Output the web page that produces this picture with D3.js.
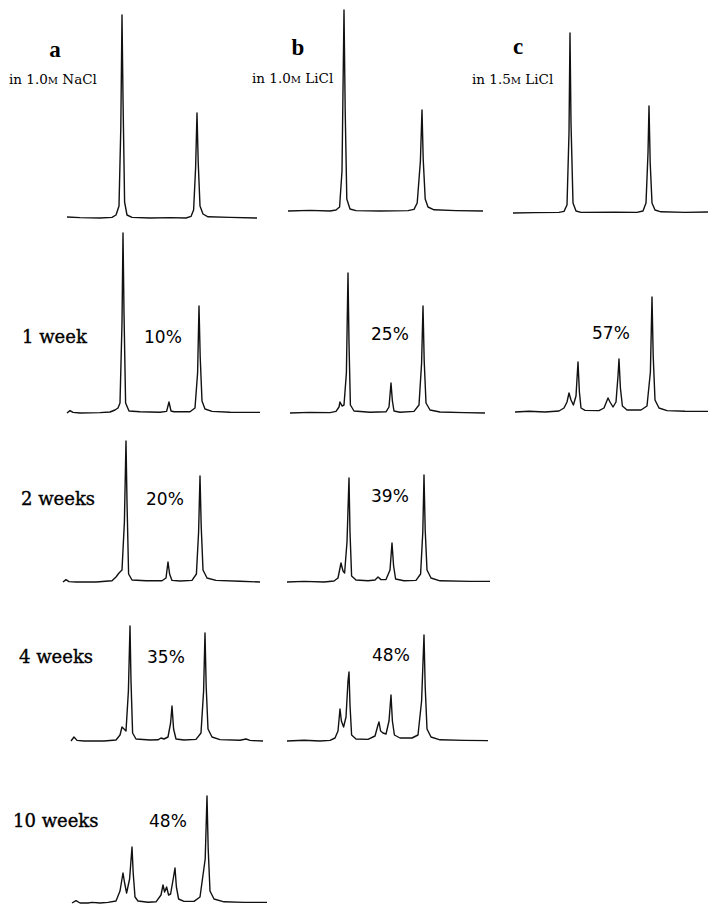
<!DOCTYPE html>
<html>
<head>
<meta charset="utf-8">
<script src="https://cdn.jsdelivr.net/npm/d3@7"></script>
<style>
  body { margin: 0; background: #fff; }
  svg { display: block; }
</style>
</head>
<body>
<div id="chart"></div>
<script>
// column headings
var columns = ["a", "b", "c"];
var concentrations = ["1.0", "1.0", "1.5"];
var salts = ["NaCl", "LiCl", "LiCl"];
var rowLabels = ["", "1 week", "2 weeks", "4 weeks", "10 weeks"];

// percentages per column, by row
var percentA = ["", "10%", "20%", "35%", "48%"];
var percentB = ["", "25%", "39%", "48%"];
var percentC = ["", "57%"];

// traces: [retention, absorbance]
var traceA0 = [[3.5,0.5],[10,0.2],[20,0],[26,0.3],[28,1.5],[29.5,6],[30.4,45],[31,101.5],[31.5,60],[32.3,8],[33.5,1.5],[36,0.3],[45,0],[55,0.2],[63,0],[65.5,0.8],[66.8,4],[67.8,25],[68.5,52.5],[69.1,28],[70,6],[71.5,2],[74,0.6],[85,0.3],[98.5,0]];
var traceB0 = [[4,0],[15,0.3],[25,0],[28,0.5],[29.8,2],[31,20],[32,100.5],[32.6,50],[33.4,6],[35,1],[38,0.2],[50,0],[64,0.2],[67,0.8],[68.6,4],[70.2,25],[71,50.5],[71.6,26],[72.6,6],[74,2],[77,0.6],[88,0.2],[101.5,0]];
var traceC0 = [[4,0],[15,0.2],[27,0.3],[29.5,0.8],[31,4],[32,40],[32.5,90],[33,45],[34,5],[35.5,1],[38,0.3],[55,0.4],[66,0.3],[69,1],[70.5,5],[71.5,30],[72,53.5],[72.6,25],[73.5,5],[75,1.5],[78,0.6],[90,0.3],[101.5,0.5]];
var traceA1 = [[3.5,0],[5,1.2],[6.5,0.3],[10,0],[20,0.2],[25,0.5],[27.5,1.5],[29,2.5],[30,5],[31,45],[31.5,90],[32,50],[32.8,5],[34.5,1],[40,0.6],[50,0.4],[53.3,0.8],[54.5,5.5],[55.5,1],[57,0.6],[65,0.6],[67.5,2.5],[68.8,20],[69.5,53.5],[70.1,28],[71,6],[72.5,2],[76,0.8],[85,0.4],[100,0.3]];
var traceB1 = [[5,0],[15,0.3],[25,0.2],[28,0.8],[29.5,3],[30,5.5],[31,3.5],[32,4],[33.2,20],[34,70],[34.5,35],[35.2,4],[37,1],[45,0.4],[53,0.6],[54.5,3],[55.5,15],[56.2,6],[57,1],[60,0.4],[67,0.8],[69.5,4],[70.8,25],[71.5,53.5],[72.1,26],[73,5],[75,1.5],[80,0.5],[92,0.2],[102.5,0]];
var traceC1 = [[5,0],[12,0.4],[20,0],[27,0.5],[29.5,2],[31,5],[32,9.5],[33,6],[34.2,3.5],[35.5,8],[36.5,25],[37.2,10],[38,2],[40,0.8],[47,0.7],[49.5,2],[51.5,7],[52.5,5],[54,2.5],[55.5,5],[56.5,18],[57,26.5],[57.7,12],[58.7,3],[61,1],[68,1],[71,3],[72.7,20],[73.5,57.5],[74.1,28],[75,6],[77,2],[81,0.7],[90,0.4],[101.5,0.3]];
var traceA2 = [[1.5,0],[3,1.2],[4.5,0.2],[8,0],[18,0],[26,0.6],[28,2.5],[29.5,4.5],[31,6],[32.2,30],[33,70.5],[33.5,40],[34.3,4],[36,1],[43,0.6],[51,0.6],[53,2],[54,10],[54.8,4],[56,0.8],[60,0.5],[66,0.8],[68.2,4],[69.3,25],[70,53],[70.6,28],[71.5,6],[73.5,2],[78,0.8],[90,0.4],[100,0]];
var traceB2 = [[3.5,0],[12,0.3],[22,0],[27,0.5],[29,2],[30.5,9.5],[31.5,5.5],[32.3,4.5],[33.5,20],[34.5,52],[35,25],[35.8,3],[38,1],[44,0.6],[47.5,1],[49,2.5],[50.5,1.2],[53,1.2],[55,6],[56,19.5],[56.8,8],[57.8,1.5],[62,0.6],[68,0.8],[70.3,4],[71.4,25],[72,53.5],[72.6,26],[73.5,6],[75.5,2],[80,0.6],[95,0.3],[105,0.3]];
var traceA3 = [[5.5,0],[7,2],[8.5,0.3],[12,0],[22,0],[28,0.5],[30,3],[31,7],[32,6],[33,5],[34.2,25],[35,57.5],[35.5,30],[36.3,4],[38,1],[45,0.5],[49,0.6],[50.5,1.5],[52,1],[54,2],[55.3,9],[56,17.5],[56.8,6],[58,1],[62,0.5],[68,0.8],[70.5,4],[71.8,25],[72.5,54],[73.1,27],[74,6],[76,2],[80,0.7],[90,0.4],[93,1],[95,0.3],[101.5,0]];
var traceB3 = [[3.5,0],[12,0.4],[20,0],[25,0.3],[27.5,1.5],[29,5],[30,16],[30.7,10],[31.8,7],[33,12],[34,30],[34.5,34.5],[35,18],[35.8,3],[38,1],[44,0.8],[47.5,2.5],[49,8],[49.5,9.5],[50.3,5],[51.5,4],[53,3.5],[54.5,10],[55.5,23],[56.2,10],[57.2,3],[60,1.5],[66,1.5],[69,3],[70.8,20],[72,53],[72.6,27],[73.5,6],[75.5,2],[80,0.6],[92,0.3],[104,0.2]];
var traceA4 = [[6,0],[8,1.2],[10,0],[14,0],[16,0.3],[20,0],[24,0.3],[28,1],[30,6],[31.5,15],[32.3,10],[33.3,5],[34.8,12],[36,28],[36.6,15],[37.5,3],[39,1],[44,0.4],[48,0.6],[50.5,4],[51.5,9],[52.3,5.5],[53.3,8],[54.3,4],[55.3,4.5],[56.6,12],[57.5,17.5],[58.2,8],[59.3,2],[62,0.8],[67,0.8],[70,3],[72.6,22],[73.5,53.5],[74.1,27],[75,6],[77,2],[82,0.6],[92,0.3],[103.5,0.3]];

var width = 709, height = 904;

// layout
var colLeft = [60, 280, 505];
var panels = [
  {trace: traceA0, col: 0, base: 218},
  {trace: traceB0, col: 1, base: 211},
  {trace: traceC0, col: 2, base: 213},
  {trace: traceA1, col: 0, base: 413},
  {trace: traceB1, col: 1, base: 413},
  {trace: traceC1, col: 2, base: 412},
  {trace: traceA2, col: 0, base: 582},
  {trace: traceB2, col: 1, base: 582},
  {trace: traceA3, col: 0, base: 741},
  {trace: traceB3, col: 1, base: 741},
  {trace: traceA4, col: 0, base: 903}
];

var x = d3.scaleLinear().domain([0, 100]).range([0, 200]);
var y = d3.scaleLinear().domain([0, 100]).range([0, -200]);

var svg = d3.select("#chart").append("svg")
  .attr("width", width)
  .attr("height", height);

var line = d3.line()
  .x(function(d) { return x(d[0]); })
  .y(function(d) { return y(d[1]); });

svg.selectAll(".trace").data(panels).enter().append("path")
  .attr("class", "trace")
  .attr("transform", function(d) { return "translate(" + colLeft[d.col] + "," + d.base + ")"; })
  .attr("d", function(d) { return line(d.trace); })
  .attr("fill", "none")
  .attr("stroke", "#111")
  .attr("stroke-width", 1.4)
  .attr("stroke-linejoin", "round");

// column letters and conditions
var headX = [55, 298, 518], headY = [57, 55, 54];
var subX = [9, 252, 472], subY = [84, 83, 84];

svg.selectAll(".head").data(columns).enter().append("text")
  .attr("class", "head")
  .attr("x", function(d, i) { return headX[i]; })
  .attr("y", function(d, i) { return headY[i]; })
  .attr("text-anchor", "middle")
  .style("font-family", "'Liberation Serif', serif")
  .style("font-weight", "bold")
  .style("font-size", "23px")
  .text(function(d) { return d; });

var subs = svg.selectAll(".sub").data(columns).enter().append("text")
  .attr("class", "sub")
  .attr("x", function(d, i) { return subX[i]; })
  .attr("y", function(d, i) { return subY[i]; })
  .style("font-family", "'DejaVu Serif', serif")
  .style("font-size", "13.5px");
subs.append("tspan").text(function(d, i) { return "in " + concentrations[i]; });
subs.append("tspan").style("font-size", "10px").text("M");
subs.append("tspan").text(function(d, i) { return " " + salts[i]; });

// row labels
var rowX = [0, 22, 21, 19, 13], rowY = [0, 343, 505, 663, 827];
svg.selectAll(".row").data(rowLabels).enter().append("text")
  .attr("class", "row")
  .attr("x", function(d, i) { return rowX[i]; })
  .attr("y", function(d, i) { return rowY[i]; })
  .style("font-family", "'DejaVu Serif', serif")
  .style("font-size", "18px")
  .style("stroke", "#000")
  .style("stroke-width", 0.35)
  .text(function(d) { return d; });

// percentages, placed in retention units
var pctCols = [
  {labels: percentA, pos: [0, 42, 43, 43.5, 44.5], ys: [0, 343, 505, 663, 827]},
  {labels: percentB, pos: [0, 45.5, 45.5, 46], ys: [0, 340, 502, 661]},
  {labels: percentC, pos: [0, 43.5], ys: [0, 339]}
];
pctCols.forEach(function(c, ci) {
  svg.selectAll(".pct" + ci).data(c.labels).enter().append("text")
    .attr("class", "pct" + ci)
    .attr("x", function(d, i) { return colLeft[ci] + x(c.pos[i]); })
    .attr("y", function(d, i) { return c.ys[i]; })
    .style("font-family", "'DejaVu Sans', sans-serif")
    .style("font-size", "17px")
    .text(function(d) { return d; });
});
</script>
</body>
</html>
